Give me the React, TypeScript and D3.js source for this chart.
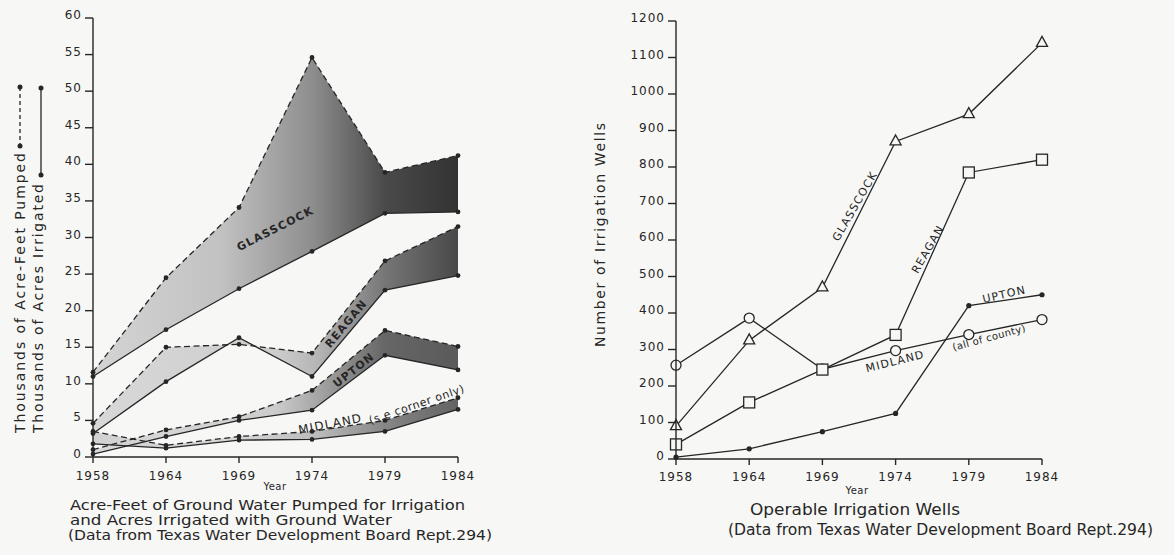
import * as d3 from "d3";

// ---- data ----
const YEARS = ["1958", "1964", "1969", "1974", "1979", "1984"];

// left panel: thousands of acre-feet pumped (dashed) / thousands of acres irrigated (solid)
const glasscockPumped = [11.6, 24.5, 34.1, 54.6, 38.9, 41.2];
const glasscockIrrigated = [11.0, 17.4, 23.0, 28.1, 33.3, 33.5];
const reaganPumped = [4.6, 15.0, 15.4, 14.2, 26.8, 31.5];
const reaganIrrigated = [3.2, 10.3, 16.3, 11.0, 22.8, 24.8];
const uptonPumped = [1.0, 3.7, 5.5, 9.1, 17.3, 15.1];
const uptonIrrigated = [0.4, 2.8, 5.0, 6.4, 13.9, 11.9];
const midlandPumped = [3.5, 1.6, 2.8, 3.5, 5.0, 8.1];
const midlandIrrigated = [1.8, 1.2, 2.3, 2.4, 3.5, 6.5];
const LEFT_TICKS = [0, 5, 10, 15, 20, 25, 30, 35, 40, 45, 50, 55, 60];

// right panel: operable irrigation wells
const glasscockWells = [90, 325, 470, 870, 945, 1140];
const reaganWells = [40, 155, 245, 340, 785, 820];
const uptonWells = [5, 28, 75, 125, 420, 450];
const midlandWells = [257, 386, 246, 297, 341, 382];
const RIGHT_TICKS = [0, 100, 200, 300, 400, 500, 600, 700, 800, 900, 1000, 1100, 1200];

const INK = "#262626";
const PAPER = "#f7f7f5";
const FONT = "'DejaVu Sans', 'Liberation Sans', sans-serif";

type Band = {
  id: string;
  upper: number[];
  lower: number[];
  stops: [number, string][];
};

const bands: Band[] = [
  {
    id: "glasscock",
    upper: glasscockPumped,
    lower: glasscockIrrigated,
    stops: [
      [0, "#d4d4d4"],
      [0.35, "#c2c2c2"],
      [0.6, "#8e8e8e"],
      [0.8, "#4a4a4a"],
      [1, "#333333"],
    ],
  },
  {
    id: "reagan",
    upper: reaganPumped,
    lower: reaganIrrigated,
    stops: [
      [0, "#d8d8d8"],
      [0.5, "#cdcdcd"],
      [0.62, "#b4b4b4"],
      [0.8, "#767676"],
      [1, "#484848"],
    ],
  },
  {
    id: "upton",
    upper: uptonPumped,
    lower: uptonIrrigated,
    stops: [
      [0, "#dadada"],
      [0.5, "#cccccc"],
      [0.62, "#a4a4a4"],
      [0.8, "#666666"],
      [1, "#5a5a5a"],
    ],
  },
  {
    id: "midland",
    upper: midlandPumped,
    lower: midlandIrrigated,
    stops: [
      [0, "#d2d2d2"],
      [0.4, "#d6d6d6"],
      [0.62, "#bababa"],
      [0.8, "#868686"],
      [1, "#636363"],
    ],
  },
];

function LeftPanel() {
  const x = d3.scalePoint<string>().domain(YEARS).range([93, 458]);
  const y = d3.scaleLinear().domain([0, 60]).range([457, 18]);

  const line = d3
    .line<number>()
    .x((_d, i) => x(YEARS[i]) ?? 0)
    .y((d) => y(d));

  return (
    <g>
      <defs>
        {bands.map((b) => (
          <linearGradient
            key={b.id}
            id={`grad-${b.id}`}
            gradientUnits="userSpaceOnUse"
            x1={x(YEARS[0])}
            x2={x(YEARS[YEARS.length - 1])}
            y1={0}
            y2={0}
          >
            {b.stops.map(([o, c]) => (
              <stop key={o} offset={o} stopColor={c} />
            ))}
          </linearGradient>
        ))}
      </defs>

      {bands.map((b) => {
        const area = d3
          .area<number>()
          .x((_d, i) => x(YEARS[i]) ?? 0)
          .y0((_d, i) => y(b.lower[i]))
          .y1((d) => y(d));
        return <path key={b.id} d={area(b.upper) ?? ""} fill={`url(#grad-${b.id})`} />;
      })}

      {bands.map((b) => (
        <g key={`l-${b.id}`} fill="none" stroke={INK} strokeWidth={1.3}>
          <path d={line(b.upper) ?? ""} strokeDasharray="6 3.5" />
          <path d={line(b.lower) ?? ""} />
        </g>
      ))}

      {bands.map((b) => (
        <g key={`d-${b.id}`} fill={INK}>
          {[...b.upper, ...b.lower].map((v, i) => (
            <circle key={i} cx={x(YEARS[i % YEARS.length])} cy={y(v)} r={2.4} />
          ))}
        </g>
      ))}

      {/* axes */}
      <g stroke={INK} strokeWidth={1.4} fill="none">
        <line x1={x(YEARS[0])} x2={x(YEARS[0])} y1={y(0)} y2={y(60)} />
        <line x1={x(YEARS[0])} x2={x(YEARS[YEARS.length - 1])} y1={y(0)} y2={y(0)} />
        {LEFT_TICKS.map((t) => (
          <line key={t} x1={(x(YEARS[0]) ?? 0) - 8} x2={x(YEARS[0])} y1={y(t)} y2={y(t)} />
        ))}
        {YEARS.map((yr) => (
          <line key={yr} x1={x(yr)} x2={x(yr)} y1={y(0)} y2={y(0) + 6} />
        ))}
      </g>
      <g fill={INK} fontFamily={FONT} fontSize={12} letterSpacing={1}>
        {LEFT_TICKS.map((t) => (
          <text key={t} x={(x(YEARS[0]) ?? 0) - 11} y={y(t) + 1} textAnchor="end">
            {t}
          </text>
        ))}
        {YEARS.map((yr) => (
          <text key={yr} x={x(yr)} y={480} textAnchor="middle">
            {yr}
          </text>
        ))}
      </g>
      <text x={275} y={490} textAnchor="middle" fontFamily={FONT} fontSize={10} fill={INK} letterSpacing={0.5}>
        Year
      </text>

      {/* y title with line-style keys */}
      <g fill={INK} fontFamily={FONT} fontSize={14}>
        <text transform="translate(25,433) rotate(-90)" textLength={280} lengthAdjust="spacing">
          Thousands of Acre-Feet Pumped
        </text>
        <text transform="translate(43,433) rotate(-90)" textLength={249} lengthAdjust="spacing">
          Thousands of Acres Irrigated
        </text>
      </g>
      <g stroke={INK} strokeWidth={1.3}>
        <line x1={20} x2={20} y1={87} y2={146} strokeDasharray="4 3" />
        <line x1={41} x2={41} y1={88} y2={175} />
      </g>
      <g fill={INK}>
        <circle cx={20} cy={87} r={2.5} />
        <circle cx={20} cy={146} r={2.5} />
        <circle cx={41} cy={88} r={2.5} />
        <circle cx={41} cy={175} r={2.5} />
      </g>

      {/* county labels */}
      <g fill={INK} fontFamily={FONT} fontWeight="bold" fontSize={11} letterSpacing={1.2}>
        <text transform="translate(277,232) rotate(-27)" textAnchor="middle">
          GLASSCOCK
        </text>
        <text transform="translate(349,326) rotate(-50)" textAnchor="middle">
          REAGAN
        </text>
        <text transform="translate(356,373) rotate(-38)" textAnchor="middle">
          UPTON
        </text>
        <text transform="translate(331,428) rotate(-11)" textAnchor="middle" fontWeight="normal" fontSize={12}>
          MIDLAND
        </text>
      </g>
      <text
        transform="translate(418,408) rotate(-19)"
        textAnchor="middle"
        fill={INK}
        fontFamily={FONT}
        fontSize={11}
        letterSpacing={0.6}
      >
        (s.e corner only)
      </text>

      {/* caption */}
      <g fill={INK} fontFamily={FONT} fontSize={13.5}>
        <text x={70} y={510} textLength={395} lengthAdjust="spacingAndGlyphs">
          Acre-Feet of Ground Water Pumped for Irrigation
        </text>
        <text x={70} y={525} textLength={322} lengthAdjust="spacingAndGlyphs">
          and Acres Irrigated with Ground Water
        </text>
        <text x={68} y={540} textLength={424} lengthAdjust="spacingAndGlyphs">
          (Data from Texas Water Development Board Rept.294)
        </text>
      </g>
    </g>
  );
}

function RightPanel() {
  const x = d3.scalePoint<string>().domain(YEARS).range([676, 1042]);
  const y = d3.scaleLinear().domain([0, 1200]).range([459, 21]);

  const line = d3
    .line<number>()
    .x((_d, i) => x(YEARS[i]) ?? 0)
    .y((d) => y(d));

  const series = [glasscockWells, reaganWells, uptonWells, midlandWells];

  return (
    <g>
      <g fill="none" stroke={INK} strokeWidth={1.3}>
        {series.map((s, i) => (
          <path key={i} d={line(s) ?? ""} />
        ))}
      </g>

      {/* markers */}
      <g fill={PAPER} stroke={INK} strokeWidth={1.3}>
        {midlandWells.map((v, i) => (
          <circle key={`m${i}`} cx={x(YEARS[i])} cy={y(v)} r={5} />
        ))}
        {reaganWells.map((v, i) => (
          <rect key={`r${i}`} x={(x(YEARS[i]) ?? 0) - 5.5} y={y(v) - 5.5} width={11} height={11} />
        ))}
        {glasscockWells.map((v, i) => (
          <path
            key={`g${i}`}
            transform={`translate(${x(YEARS[i])},${y(v)})`}
            d="M0,-6.5L5.5,3.5L-5.5,3.5Z"
          />
        ))}
      </g>
      <g fill={INK}>
        {uptonWells.map((v, i) => (
          <circle key={`u${i}`} cx={x(YEARS[i])} cy={y(v)} r={2.6} />
        ))}
      </g>

      {/* axes */}
      <g stroke={INK} strokeWidth={1.4} fill="none">
        <line x1={x(YEARS[0])} x2={x(YEARS[0])} y1={y(0)} y2={y(1200)} />
        <line x1={x(YEARS[0])} x2={x(YEARS[YEARS.length - 1])} y1={y(0)} y2={y(0)} />
        {RIGHT_TICKS.map((t) => (
          <line key={t} x1={(x(YEARS[0]) ?? 0) - 8} x2={x(YEARS[0])} y1={y(t)} y2={y(t)} />
        ))}
        {YEARS.map((yr) => (
          <line key={yr} x1={x(yr)} x2={x(yr)} y1={y(0)} y2={y(0) + 6} />
        ))}
      </g>
      <g fill={INK} fontFamily={FONT} fontSize={12} letterSpacing={1}>
        {RIGHT_TICKS.map((t) => (
          <text key={t} x={(x(YEARS[0]) ?? 0) - 11} y={y(t) + 1} textAnchor="end">
            {t}
          </text>
        ))}
        {YEARS.map((yr) => (
          <text key={yr} x={x(yr)} y={481} textAnchor="middle">
            {yr}
          </text>
        ))}
      </g>
      <text x={857} y={494} textAnchor="middle" fontFamily={FONT} fontSize={10} fill={INK} letterSpacing={0.5}>
        Year
      </text>

      <text
        transform="translate(605,347) rotate(-90)"
        fill={INK}
        fontFamily={FONT}
        fontSize={14}
        textLength={224}
        lengthAdjust="spacing"
      >
        Number of Irrigation Wells
      </text>

      {/* county labels */}
      <g fill={INK} fontFamily={FONT} fontSize={11} letterSpacing={1.2}>
        <text transform="translate(858,208) rotate(-60)" textAnchor="middle">
          GLASSCOCK
        </text>
        <text transform="translate(931,251) rotate(-60)" textAnchor="middle">
          REAGAN
        </text>
        <text transform="translate(1005,298) rotate(-13)" textAnchor="middle">
          UPTON
        </text>
        <text transform="translate(896,365) rotate(-14)" textAnchor="middle">
          MIDLAND
        </text>
        <text transform="translate(990,341) rotate(-15)" textAnchor="middle" fontSize={10} letterSpacing={0.4}>
          (all of county)
        </text>
      </g>

      {/* caption */}
      <g fill={INK} fontFamily={FONT} fontSize={15}>
        <text x={750} y={515} textLength={210} lengthAdjust="spacingAndGlyphs">
          Operable Irrigation Wells
        </text>
        <text x={728} y={535} textLength={425} lengthAdjust="spacingAndGlyphs">
          (Data from Texas Water Development Board Rept.294)
        </text>
      </g>
    </g>
  );
}

export default function App() {
  return (
    <>
      <style>{`body{margin:0;background:${PAPER};}`}</style>
      <svg width={1174} height={555} viewBox="0 0 1174 555" style={{ display: "block" }}>
        <rect width={1174} height={555} fill={PAPER} />
        <LeftPanel />
        <RightPanel />
      </svg>
    </>
  );
}
